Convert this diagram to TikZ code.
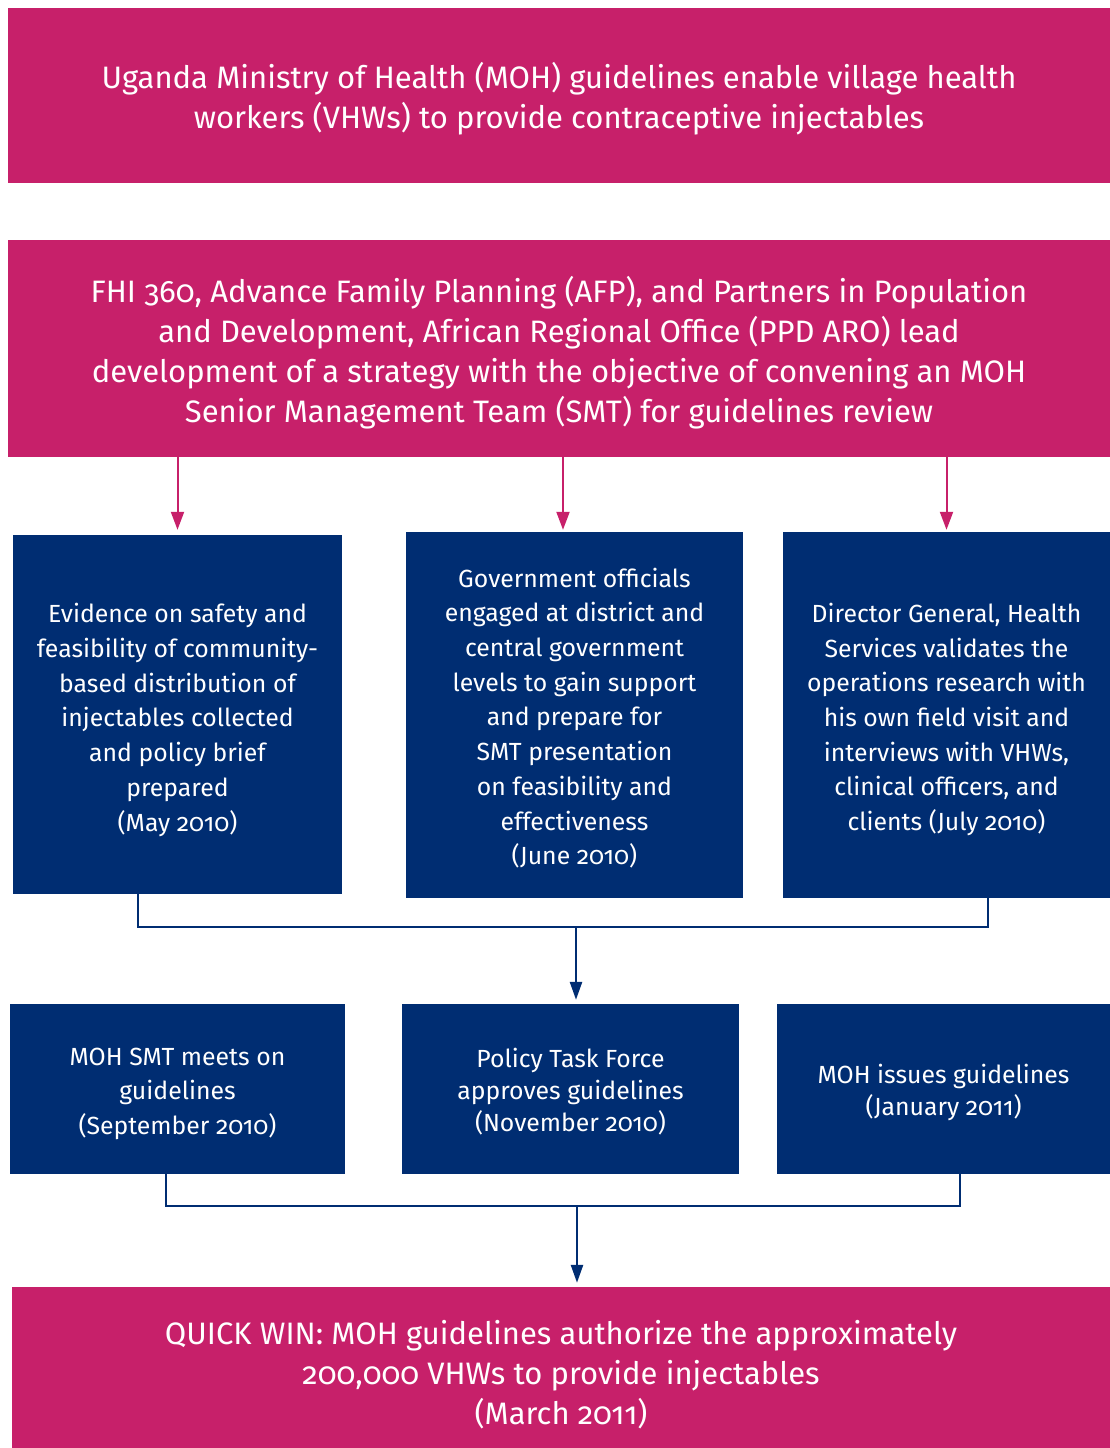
\documentclass[tikz,border=0pt]{standalone}
\usepackage{fontspec}
\setmainfont{Fira Sans}[Numbers=OldStyle]
\usetikzlibrary{arrows.meta}
\definecolor{mag}{RGB}{199,32,106}
\definecolor{navy}{RGB}{0,45,114}
\newcommand{\lowered}[2]{\raisebox{-#1}[\height][\depth]{\begin{tabular}{@{}c@{}}#2\end{tabular}}}
\begin{document}
\begin{tikzpicture}[x=1pt,y=-1pt,
 magbox/.style={fill=mag, text=white, inner sep=0pt, font=\fontsize{31}{40}\selectfont},
 navbox/.style={fill=navy, text=white, inner sep=0pt, font=\fontsize{24.8}{34.7}\selectfont},
 magarrow/.style={draw=mag, line width=2pt, -{Triangle[width=13pt,length=18pt]}},
 navline/.style={draw=navy, line width=2.5pt},
 navarrow/.style={navline, -{Triangle[width=12pt,length=18pt]}}]
\useasboundingbox (0,0) rectangle (1110,1448);

\node[magbox, minimum width=1102pt, minimum height=175pt] (top) at (559,95.5)
 {\lowered{5pt}{Uganda Ministry of Health (MOH) guidelines enable village health\\ workers (VHWs) to provide contraceptive injectables}};

\node[magbox, minimum width=1102pt, minimum height=217pt] (strat) at (559,348.5)
 {\lowered{6pt}{FHI 360, Advance Family Planning (AFP), and Partners in Population\\ and Development, African Regional Office (PPD ARO) lead\\ development of a strategy with the objective of convening an MOH\\ Senior Management Team (SMT) for guidelines review}};

\node[navbox, minimum width=329pt, minimum height=359pt] (ev) at (177.5,714.5)
 {\lowered{5.5pt}{Evidence on safety and\\ feasibility of community-\\ based distribution of\\ injectables collected\\ and policy brief\\ prepared\\ (May 2010)}};
\node[navbox, minimum width=337pt, minimum height=366pt] (gov) at (574.5,715)
 {\lowered{4pt}{Government officials\\ engaged at district and\\ central government\\ levels to gain support\\ and prepare for\\ SMT presentation\\ on feasibility and\\ effectiveness\\ (June 2010)}};
\node[navbox, minimum width=327pt, minimum height=366pt] (dir) at (946.5,715)
 {\lowered{4.5pt}{Director General, Health\\ Services validates the\\ operations research with\\ his own field visit and\\ interviews with VHWs,\\ clinical officers, and\\ clients (July 2010)}};

\node[navbox, minimum width=335pt, minimum height=170pt] (smt) at (177.5,1089)
 {\lowered{4pt}{MOH SMT meets on\\ guidelines\\ (September 2010)}};
\node[navbox, minimum width=337pt, minimum height=170pt, font=\fontsize{24.8}{32}\selectfont] (ptf) at (570.5,1089)
 {\lowered{4pt}{Policy Task Force\\ approves guidelines\\ (November 2010)}};
\node[navbox, minimum width=333pt, minimum height=170pt, font=\fontsize{24.8}{32}\selectfont] (iss) at (943.5,1089)
 {\lowered{4pt}{MOH issues guidelines\\ (January 2011)}};

\node[magbox, minimum width=1098pt, minimum height=162pt] (win) at (561,1368)
 {\lowered{8pt}{QUICK WIN: MOH guidelines authorize the approximately\\ 200,000 VHWs to provide injectables\\ (March 2011)}};

\coordinate (mB) at (563,0);
\draw[magarrow, shorten >=5pt] (strat.south -| ev.north) -- (ev.north);
\draw[magarrow, shorten >=2pt] (strat.south -| mB) -- (gov.north -| mB);
\draw[magarrow, shorten >=2pt] (strat.south -| dir.north) -- (dir.north);

\coordinate (c1l) at (138,927);
\coordinate (c1r) at (988,927);
\coordinate (j1) at (576,927);
\draw[navline] (ev.south -| c1l) -- (c1l) -- (c1r) -- (dir.south -| c1r);
\draw[navarrow, shorten >=4pt] (j1) -- (smt.north -| j1);

\coordinate (c2l) at (166,1206);
\coordinate (c2r) at (960,1206);
\coordinate (j2) at (577,1206);
\draw[navline] (smt.south -| c2l) -- (c2l) -- (c2r) -- (iss.south -| c2r);
\draw[navarrow, shorten >=4pt] (j2) -- (win.north -| j2);
\end{tikzpicture}
\end{document}
